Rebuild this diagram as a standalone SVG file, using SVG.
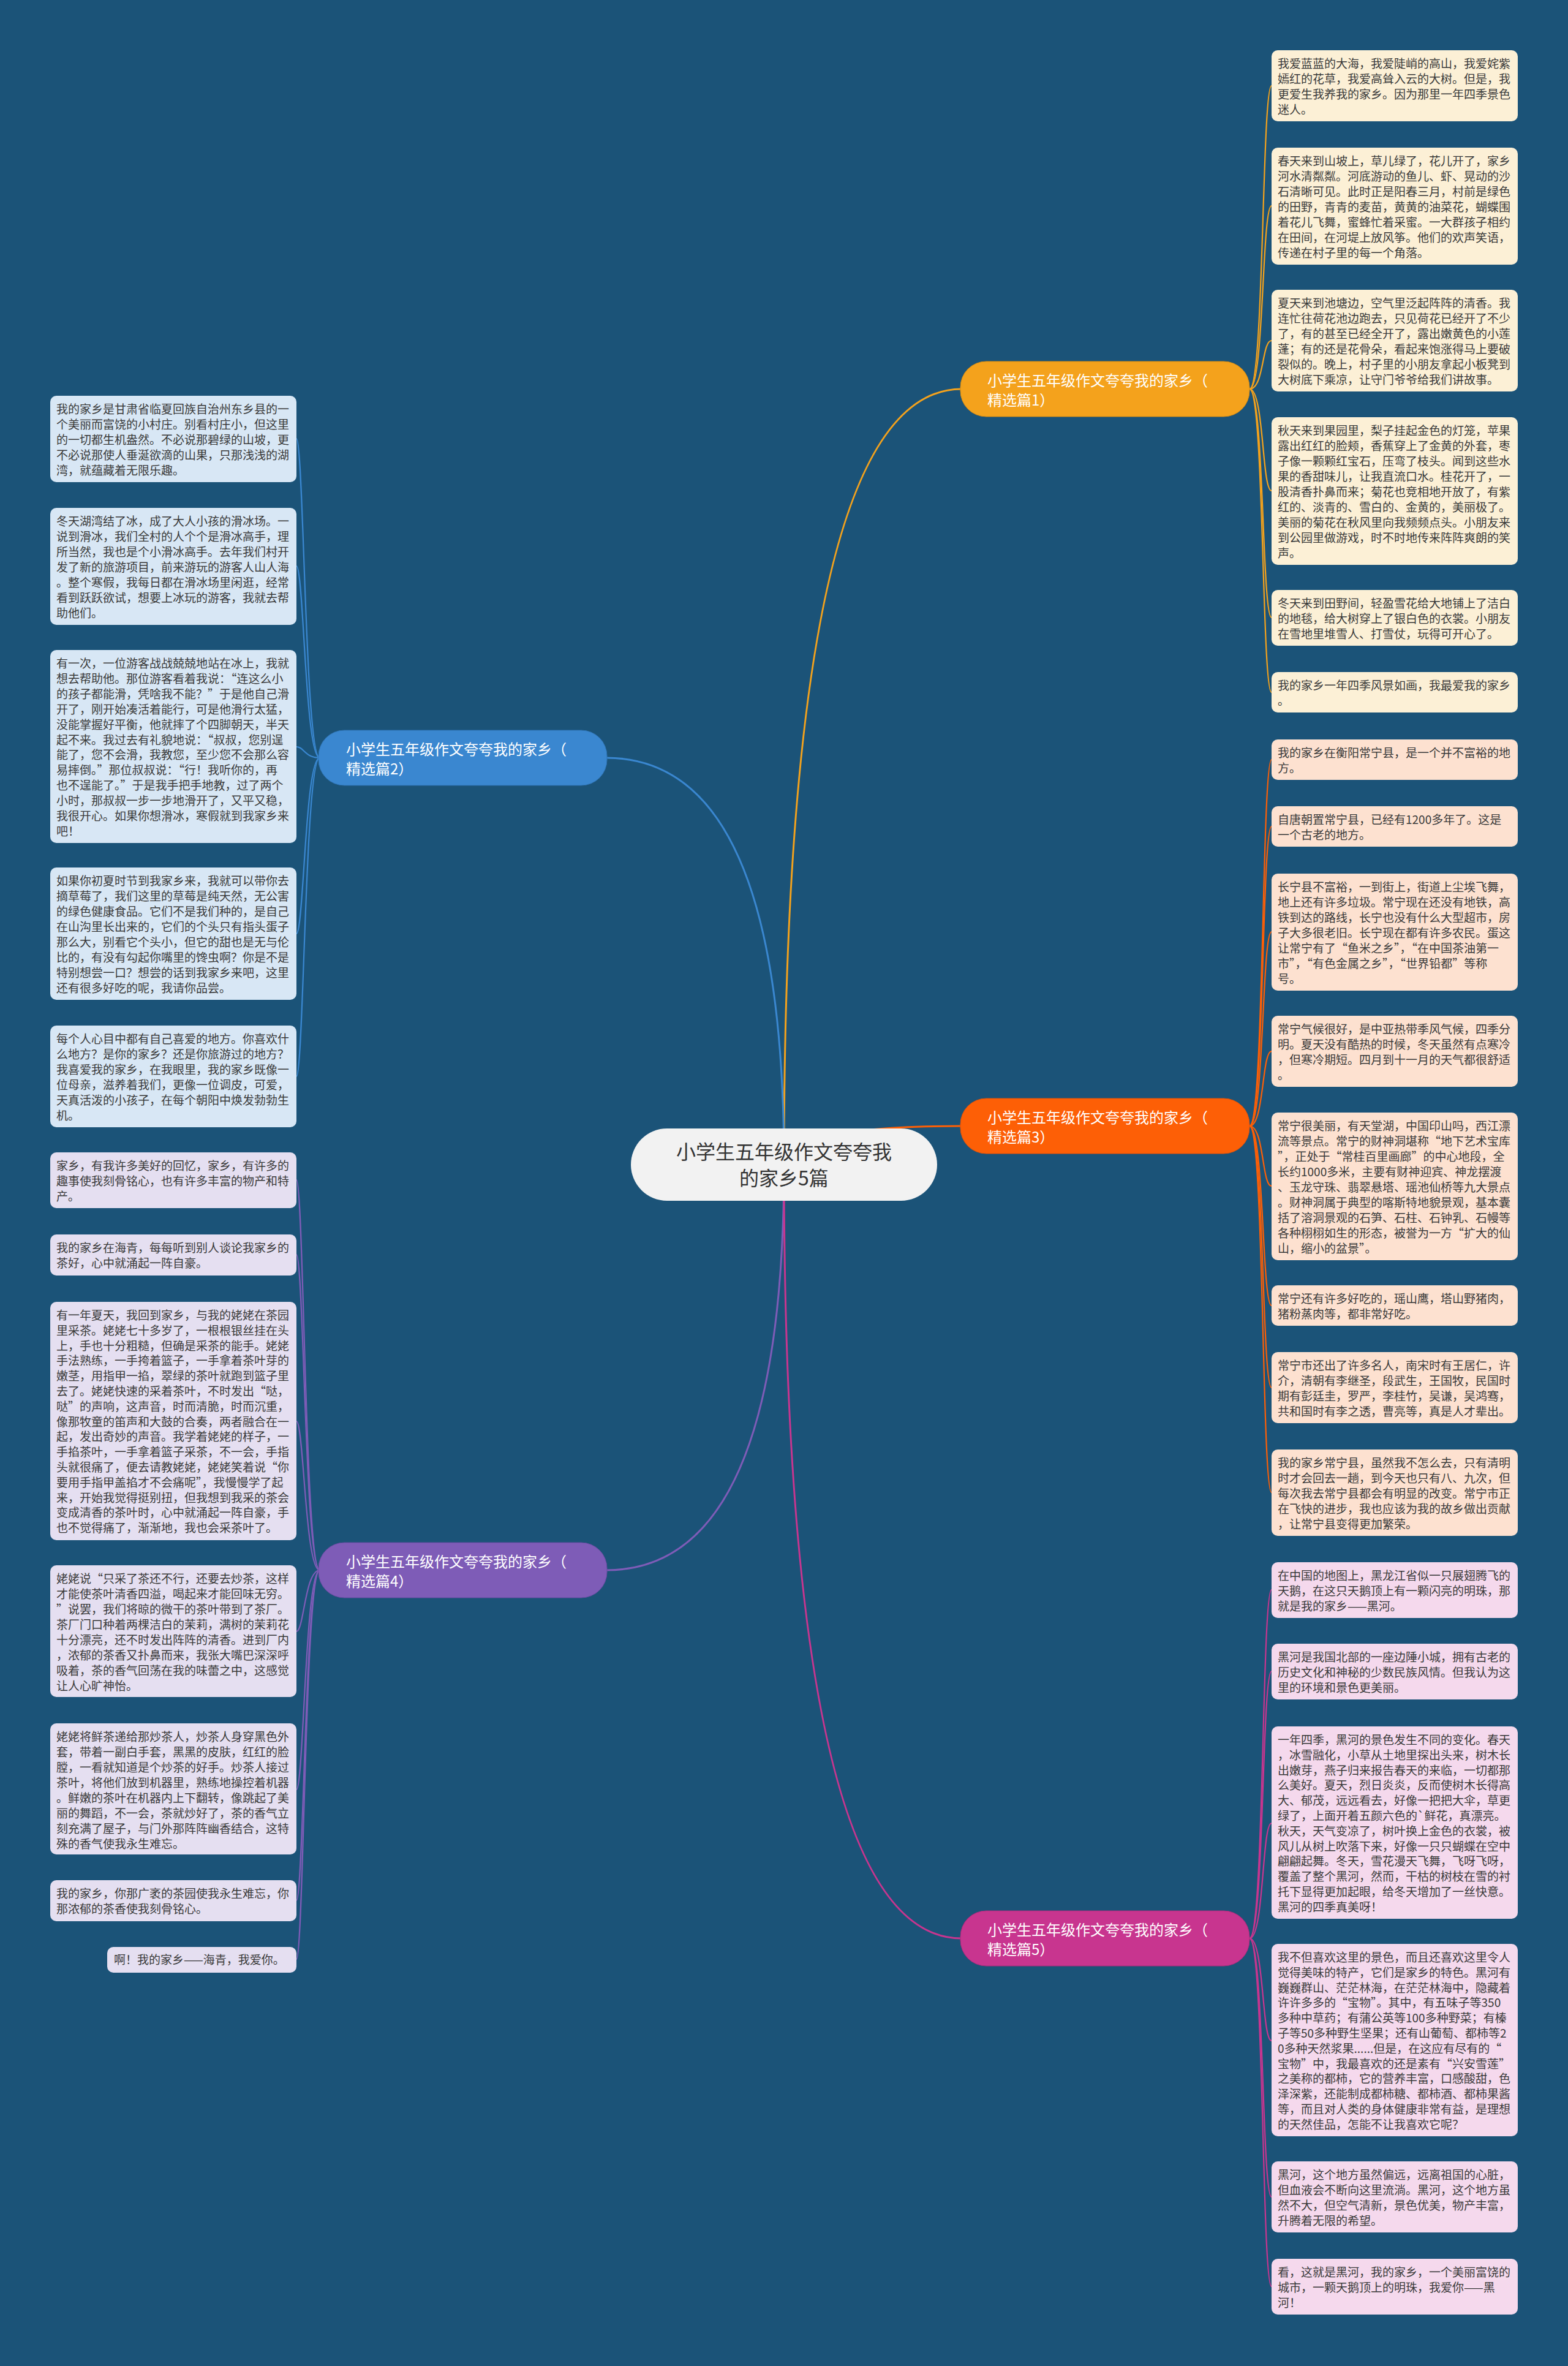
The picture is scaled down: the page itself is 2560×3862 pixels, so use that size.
<svg xmlns="http://www.w3.org/2000/svg" width="2560" height="3862" viewBox="0 0 2560 3862">
<style>
.lt{font-family:"Noto Sans CJK SC","Liberation Sans",sans-serif;font-size:19px;fill:#3a3a3a}
.bt{font-family:"Noto Sans CJK SC","Liberation Sans",sans-serif;font-size:24px;fill:#ffffff}
.mt{font-family:"Noto Sans CJK SC","Liberation Sans",sans-serif;font-size:32px;fill:#333333}
.q{font-feature-settings:"fwid" 1;font-variant-east-asian:full-width}
.c1{fill:#fcf0d6}.c2{fill:#d8e7f5}.c3{fill:#fde1d0}.c4{fill:#e5dff1}.c5{fill:#f5d9ed}
.l1{stroke:#f4a21c}.l2{stroke:#3a87d0}.l3{stroke:#fd5f06}.l4{stroke:#7e5cb7}.l5{stroke:#c8358f}
#connectors path{fill:none}
.main{stroke-width:3}
.leafc{stroke-width:2.2}
</style>
<rect x="0" y="0" width="2560" height="3862" fill="#1b5378"/>
<g id="connectors">
<path class="main l1" d="M1280 1901 Q1280 635 1570 635"/>
<path class="main l2" d="M1280 1901 Q1280 1237 990 1237"/>
<path class="main l3" d="M1280 1901 Q1280 1838 1570 1838"/>
<path class="main l4" d="M1280 1901 Q1280 2563 990 2563"/>
<path class="main l5" d="M1280 1901 Q1280 3164 1570 3164"/>
<path class="leafc l1" d="M2040 635 C2064 635 2060 140 2076 140"/>
<path class="leafc l1" d="M2040 635 C2064 635 2060 336 2076 336"/>
<path class="leafc l1" d="M2040 635 C2064 635 2060 556 2076 556"/>
<path class="leafc l1" d="M2040 635 C2064 635 2060 801 2076 801"/>
<path class="leafc l1" d="M2040 635 C2064 635 2060 1008 2076 1008"/>
<path class="leafc l1" d="M2040 635 C2064 635 2060 1130 2076 1130"/>
<path class="leafc l3" d="M2040 1838 C2064 1838 2060 1240 2076 1240"/>
<path class="leafc l3" d="M2040 1838 C2064 1838 2060 1349 2076 1349"/>
<path class="leafc l3" d="M2040 1838 C2064 1838 2060 1521 2076 1521"/>
<path class="leafc l3" d="M2040 1838 C2064 1838 2060 1716 2076 1716"/>
<path class="leafc l3" d="M2040 1838 C2064 1838 2060 1936 2076 1936"/>
<path class="leafc l3" d="M2040 1838 C2064 1838 2060 2131 2076 2131"/>
<path class="leafc l3" d="M2040 1838 C2064 1838 2060 2265 2076 2265"/>
<path class="leafc l3" d="M2040 1838 C2064 1838 2060 2436 2076 2436"/>
<path class="leafc l5" d="M2040 3164 C2064 3164 2060 2595 2076 2595"/>
<path class="leafc l5" d="M2040 3164 C2064 3164 2060 2728 2076 2728"/>
<path class="leafc l5" d="M2040 3164 C2064 3164 2060 2976 2076 2976"/>
<path class="leafc l5" d="M2040 3164 C2064 3164 2060 3331 2076 3331"/>
<path class="leafc l5" d="M2040 3164 C2064 3164 2060 3586 2076 3586"/>
<path class="leafc l5" d="M2040 3164 C2064 3164 2060 3732 2076 3732"/>
<path class="leafc l2" d="M522 1237 C498 1237 496 716 484 716"/>
<path class="leafc l2" d="M522 1237 C498 1237 496 924 484 924"/>
<path class="leafc l2" d="M522 1237 C498 1237 496 1219 484 1219"/>
<path class="leafc l2" d="M522 1237 C498 1237 496 1524 484 1524"/>
<path class="leafc l2" d="M522 1237 C498 1237 496 1757 484 1757"/>
<path class="leafc l4" d="M522 2563 C498 2563 496 1926 484 1926"/>
<path class="leafc l4" d="M522 2563 C498 2563 496 2048 484 2048"/>
<path class="leafc l4" d="M522 2563 C498 2563 496 2320 484 2320"/>
<path class="leafc l4" d="M522 2563 C498 2563 496 2663 484 2663"/>
<path class="leafc l4" d="M522 2563 C498 2563 496 2921 484 2921"/>
<path class="leafc l4" d="M522 2563 C498 2563 496 3102 484 3102"/>
<path class="leafc l4" d="M522 2563 C498 2563 496 3198 484 3198"/>
</g>
<g id="main">
<rect x="1030" y="1842" width="500" height="118" rx="59" fill="#f2f2f2"/>
<text class="mt" text-anchor="middle"><tspan x="1280" y="1892">小学生五年级作文夸夸我</tspan><tspan x="1280" y="1935">的家乡5篇</tspan></text>
</g>
<g id="branch1">
<rect x="1568" y="590" width="472" height="90" rx="42" fill="#f4a21c" stroke="#d98c10" stroke-width="1"/>
<text class="bt"><tspan x="1612" y="630">小学生五年级作文夸夸我的家乡（</tspan><tspan x="1612" y="662">精选篇1）</tspan></text>
</g>
<g id="branch2">
<rect x="520" y="1192" width="471" height="90" rx="42" fill="#3a87d0" stroke="#2f74b5" stroke-width="1"/>
<text class="bt"><tspan x="565" y="1232">小学生五年级作文夸夸我的家乡（</tspan><tspan x="565" y="1264">精选篇2）</tspan></text>
</g>
<g id="branch3">
<rect x="1568" y="1793" width="472" height="90" rx="42" fill="#fd5f06" stroke="#e0520a" stroke-width="1"/>
<text class="bt"><tspan x="1612" y="1833">小学生五年级作文夸夸我的家乡（</tspan><tspan x="1612" y="1865">精选篇3）</tspan></text>
</g>
<g id="branch4">
<rect x="520" y="2518" width="471" height="90" rx="42" fill="#7e5cb7" stroke="#6b4ca3" stroke-width="1"/>
<text class="bt"><tspan x="565" y="2558">小学生五年级作文夸夸我的家乡（</tspan><tspan x="565" y="2590">精选篇4）</tspan></text>
</g>
<g id="branch5">
<rect x="1568" y="3119" width="472" height="90" rx="42" fill="#c8358f" stroke="#ad2a7b" stroke-width="1"/>
<text class="bt"><tspan x="1612" y="3159">小学生五年级作文夸夸我的家乡（</tspan><tspan x="1612" y="3191">精选篇5）</tspan></text>
</g>

<g id="r1-1"><rect class="c1" x="2076" y="82" width="402" height="116" rx="10"/>
<text class="lt" x="2086" y="111"><tspan x="2086">我爱蓝蓝的大海，我爱陡峭的高山，我爱姹紫</tspan><tspan x="2086" dy="25">嫣红的花草，我爱高耸入云的大树。但是，我</tspan><tspan x="2086" dy="25">更爱生我养我的家乡。因为那里一年四季景色</tspan><tspan x="2086" dy="25">迷人。</tspan></text></g>
<g id="r1-2"><rect class="c1" x="2076" y="241" width="402" height="191" rx="10"/>
<text class="lt" x="2086" y="270"><tspan x="2086">春天来到山坡上，草儿绿了，花儿开了，家乡</tspan><tspan x="2086" dy="25">河水清粼粼。河底游动的鱼儿、虾、晃动的沙</tspan><tspan x="2086" dy="25">石清晰可见。此时正是阳春三月，村前是绿色</tspan><tspan x="2086" dy="25">的田野，青青的麦苗，黄黄的油菜花，蝴蝶围</tspan><tspan x="2086" dy="25">着花儿飞舞，蜜蜂忙着采蜜。一大群孩子相约</tspan><tspan x="2086" dy="25">在田间，在河堤上放风筝。他们的欢声笑语，</tspan><tspan x="2086" dy="25">传递在村子里的每一个角落。</tspan></text></g>
<g id="r1-3"><rect class="c1" x="2076" y="473" width="402" height="166" rx="10"/>
<text class="lt" x="2086" y="502"><tspan x="2086">夏天来到池塘边，空气里泛起阵阵的清香。我</tspan><tspan x="2086" dy="25">连忙往荷花池边跑去，只见荷花已经开了不少</tspan><tspan x="2086" dy="25">了，有的甚至已经全开了，露出嫩黄色的小莲</tspan><tspan x="2086" dy="25">蓬；有的还是花骨朵，看起来饱涨得马上要破</tspan><tspan x="2086" dy="25">裂似的。晚上，村子里的小朋友拿起小板凳到</tspan><tspan x="2086" dy="25">大树底下乘凉，让守门爷爷给我们讲故事。</tspan></text></g>
<g id="r1-4"><rect class="c1" x="2076" y="681" width="402" height="241" rx="10"/>
<text class="lt" x="2086" y="710"><tspan x="2086">秋天来到果园里，梨子挂起金色的灯笼，苹果</tspan><tspan x="2086" dy="25">露出红红的脸颊，香蕉穿上了金黄的外套，枣</tspan><tspan x="2086" dy="25">子像一颗颗红宝石，压弯了枝头。闻到这些水</tspan><tspan x="2086" dy="25">果的香甜味儿，让我直流口水。桂花开了，一</tspan><tspan x="2086" dy="25">股清香扑鼻而来；菊花也竞相地开放了，有紫</tspan><tspan x="2086" dy="25">红的、淡青的、雪白的、金黄的，美丽极了。</tspan><tspan x="2086" dy="25">美丽的菊花在秋风里向我频频点头。小朋友来</tspan><tspan x="2086" dy="25">到公园里做游戏，时不时地传来阵阵爽朗的笑</tspan><tspan x="2086" dy="25">声。</tspan></text></g>
<g id="r1-5"><rect class="c1" x="2076" y="963" width="402" height="91" rx="10"/>
<text class="lt" x="2086" y="992"><tspan x="2086">冬天来到田野间，轻盈雪花给大地铺上了洁白</tspan><tspan x="2086" dy="25">的地毯，给大树穿上了银白色的衣裳。小朋友</tspan><tspan x="2086" dy="25">在雪地里堆雪人、打雪仗，玩得可开心了。</tspan></text></g>
<g id="r1-6"><rect class="c1" x="2076" y="1097" width="402" height="66" rx="10"/>
<text class="lt" x="2086" y="1126"><tspan x="2086">我的家乡一年四季风景如画，我最爱我的家乡</tspan><tspan x="2086" dy="25">。</tspan></text></g>

<g id="r3-1"><rect class="c3" x="2076" y="1207" width="402" height="66" rx="10"/>
<text class="lt" x="2086" y="1236"><tspan x="2086">我的家乡在衡阳常宁县，是一个并不富裕的地</tspan><tspan x="2086" dy="25">方。</tspan></text></g>
<g id="r3-2"><rect class="c3" x="2076" y="1316" width="402" height="66" rx="10"/>
<text class="lt" x="2086" y="1345"><tspan x="2086">自唐朝置常宁县，已经有1200多年了。这是</tspan><tspan x="2086" dy="25">一个古老的地方。</tspan></text></g>
<g id="r3-3"><rect class="c3" x="2076" y="1426" width="402" height="191" rx="10"/>
<text class="lt" x="2086" y="1455"><tspan x="2086">长宁县不富裕，一到街上，街道上尘埃飞舞，</tspan><tspan x="2086" dy="25">地上还有许多垃圾。常宁现在还没有地铁，高</tspan><tspan x="2086" dy="25">铁到达的路线，长宁也没有什么大型超市，房</tspan><tspan x="2086" dy="25">子大多很老旧。长宁现在都有许多农民。蛋这</tspan><tspan x="2086" dy="25">让常宁有了<tspan class="q">“</tspan>鱼米之乡<tspan class="q">”</tspan>，<tspan class="q">“</tspan>在中国茶油第一</tspan><tspan x="2086" dy="25">市<tspan class="q">”</tspan>，<tspan class="q">“</tspan>有色金属之乡<tspan class="q">”</tspan>，<tspan class="q">“</tspan>世界铅都<tspan class="q">”</tspan>等称</tspan><tspan x="2086" dy="25">号。</tspan></text></g>
<g id="r3-4"><rect class="c3" x="2076" y="1658" width="402" height="116" rx="10"/>
<text class="lt" x="2086" y="1687"><tspan x="2086">常宁气候很好，是中亚热带季风气候，四季分</tspan><tspan x="2086" dy="25">明。夏天没有酷热的时候，冬天虽然有点寒冷</tspan><tspan x="2086" dy="25">，但寒冷期短。四月到十一月的天气都很舒适</tspan><tspan x="2086" dy="25">。</tspan></text></g>
<g id="r3-5"><rect class="c3" x="2076" y="1816" width="402" height="241" rx="10"/>
<text class="lt" x="2086" y="1845"><tspan x="2086">常宁很美丽，有天堂湖，中国印山吗，西江漂</tspan><tspan x="2086" dy="25">流等景点。常宁的财神洞堪称<tspan class="q">“</tspan>地下艺术宝库</tspan><tspan x="2086" dy="25"><tspan class="q">”</tspan>，正处于<tspan class="q">“</tspan>常桂百里画廊<tspan class="q">”</tspan>的中心地段，全</tspan><tspan x="2086" dy="25">长约1000多米，主要有财神迎宾、神龙摆渡</tspan><tspan x="2086" dy="25">、玉龙守珠、翡翠悬塔、瑶池仙桥等九大景点</tspan><tspan x="2086" dy="25">。财神洞属于典型的喀斯特地貌景观，基本囊</tspan><tspan x="2086" dy="25">括了溶洞景观的石笋、石柱、石钟乳、石幔等</tspan><tspan x="2086" dy="25">各种栩栩如生的形态，被誉为一方<tspan class="q">“</tspan>扩大的仙</tspan><tspan x="2086" dy="25">山，缩小的盆景<tspan class="q">”</tspan>。</tspan></text></g>
<g id="r3-6"><rect class="c3" x="2076" y="2098" width="402" height="66" rx="10"/>
<text class="lt" x="2086" y="2127"><tspan x="2086">常宁还有许多好吃的，瑶山鹰，塔山野猪肉，</tspan><tspan x="2086" dy="25">猪粉蒸肉等，都非常好吃。</tspan></text></g>
<g id="r3-7"><rect class="c3" x="2076" y="2207" width="402" height="116" rx="10"/>
<text class="lt" x="2086" y="2236"><tspan x="2086">常宁市还出了许多名人，南宋时有王居仁，许</tspan><tspan x="2086" dy="25">介，清朝有李继圣，段武生，王国牧，民国时</tspan><tspan x="2086" dy="25">期有彭廷圭，罗严，李桂竹，吴谦，吴鸿骞，</tspan><tspan x="2086" dy="25">共和国时有李之透，曹亮等，真是人才辈出。</tspan></text></g>
<g id="r3-8"><rect class="c3" x="2076" y="2366" width="402" height="141" rx="10"/>
<text class="lt" x="2086" y="2395"><tspan x="2086">我的家乡常宁县，虽然我不怎么去，只有清明</tspan><tspan x="2086" dy="25">时才会回去一趟，到今天也只有八、九次，但</tspan><tspan x="2086" dy="25">每次我去常宁县都会有明显的改变。常宁市正</tspan><tspan x="2086" dy="25">在飞快的进步，我也应该为我的故乡做出贡献</tspan><tspan x="2086" dy="25">，让常宁县变得更加繁荣。</tspan></text></g>

<g id="r5-1"><rect class="c5" x="2076" y="2550" width="402" height="91" rx="10"/>
<text class="lt" x="2086" y="2579"><tspan x="2086">在中国的地图上，黑龙江省似一只展翅腾飞的</tspan><tspan x="2086" dy="25">天鹅，在这只天鹅顶上有一颗闪亮的明珠，那</tspan><tspan x="2086" dy="25">就是我的家乡——黑河。</tspan></text></g>
<g id="r5-2"><rect class="c5" x="2076" y="2683" width="402" height="91" rx="10"/>
<text class="lt" x="2086" y="2712"><tspan x="2086">黑河是我国北部的一座边陲小城，拥有古老的</tspan><tspan x="2086" dy="25">历史文化和神秘的少数民族风情。但我认为这</tspan><tspan x="2086" dy="25">里的环境和景色更美丽。</tspan></text></g>
<g id="r5-3"><rect class="c5" x="2076" y="2818" width="402" height="314" rx="10"/>
<text class="lt" x="2086" y="2847"><tspan x="2086">一年四季，黑河的景色发生不同的变化。春天</tspan><tspan x="2086" dy="24.8">，冰雪融化，小草从土地里探出头来，树木长</tspan><tspan x="2086" dy="24.8">出嫩芽，燕子归来报告春天的来临，一切都那</tspan><tspan x="2086" dy="24.8">么美好。夏天，烈日炎炎，反而使树木长得高</tspan><tspan x="2086" dy="24.8">大、郁茂，远远看去，好像一把把大伞，草更</tspan><tspan x="2086" dy="24.8">绿了，上面开着五颜六色的`鲜花，真漂亮。</tspan><tspan x="2086" dy="24.8">秋天，天气变凉了，树叶换上金色的衣裳，被</tspan><tspan x="2086" dy="24.8">风儿从树上吹落下来，好像一只只蝴蝶在空中</tspan><tspan x="2086" dy="24.8">翩翩起舞。冬天，雪花漫天飞舞，飞呀飞呀，</tspan><tspan x="2086" dy="24.8">覆盖了整个黑河，然而，干枯的树枝在雪的衬</tspan><tspan x="2086" dy="24.8">托下显得更加起眼，给冬天增加了一丝快意。</tspan><tspan x="2086" dy="24.8">黑河的四季真美呀！</tspan></text></g>
<g id="r5-4"><rect class="c5" x="2076" y="3173" width="402" height="314" rx="10"/>
<text class="lt" x="2086" y="3202"><tspan x="2086">我不但喜欢这里的景色，而且还喜欢这里令人</tspan><tspan x="2086" dy="24.8">觉得美味的特产，它们是家乡的特色。黑河有</tspan><tspan x="2086" dy="24.8">巍巍群山、茫茫林海，在茫茫林海中，隐藏着</tspan><tspan x="2086" dy="24.8">许许多多的<tspan class="q">“</tspan>宝物<tspan class="q">”</tspan>。其中，有五味子等350</tspan><tspan x="2086" dy="24.8">多种中草药；有蒲公英等100多种野菜；有榛</tspan><tspan x="2086" dy="24.8">子等50多种野生坚果；还有山葡萄、都柿等2</tspan><tspan x="2086" dy="24.8">0多种天然浆果......但是，在这应有尽有的<tspan class="q">“</tspan></tspan><tspan x="2086" dy="24.8">宝物<tspan class="q">”</tspan>中，我最喜欢的还是素有<tspan class="q">“</tspan>兴安雪莲<tspan class="q">”</tspan></tspan><tspan x="2086" dy="24.8">之美称的都柿，它的营养丰富，口感酸甜，色</tspan><tspan x="2086" dy="24.8">泽深紫，还能制成都柿糖、都柿酒、都柿果酱</tspan><tspan x="2086" dy="24.8">等，而且对人类的身体健康非常有益，是理想</tspan><tspan x="2086" dy="24.8">的天然佳品，怎能不让我喜欢它呢？</tspan></text></g>
<g id="r5-5"><rect class="c5" x="2076" y="3528" width="402" height="116" rx="10"/>
<text class="lt" x="2086" y="3557"><tspan x="2086">黑河，这个地方虽然偏远，远离祖国的心脏，</tspan><tspan x="2086" dy="25">但血液会不断向这里流淌。黑河，这个地方虽</tspan><tspan x="2086" dy="25">然不大，但空气清新，景色优美，物产丰富，</tspan><tspan x="2086" dy="25">升腾着无限的希望。</tspan></text></g>
<g id="r5-6"><rect class="c5" x="2076" y="3687" width="402" height="91" rx="10"/>
<text class="lt" x="2086" y="3716"><tspan x="2086">看，这就是黑河，我的家乡，一个美丽富饶的</tspan><tspan x="2086" dy="25">城市，一颗天鹅顶上的明珠，我爱你——黑</tspan><tspan x="2086" dy="25">河！</tspan></text></g>

<g id="l2-1"><rect class="c2" x="82" y="646" width="402" height="141" rx="10"/>
<text class="lt" x="92" y="675"><tspan x="92">我的家乡是甘肃省临夏回族自治州东乡县的一</tspan><tspan x="92" dy="25">个美丽而富饶的小村庄。别看村庄小，但这里</tspan><tspan x="92" dy="25">的一切都生机盎然。不必说那碧绿的山坡，更</tspan><tspan x="92" dy="25">不必说那使人垂涎欲滴的山果，只那浅浅的湖</tspan><tspan x="92" dy="25">湾，就蕴藏着无限乐趣。</tspan></text></g>
<g id="l2-2"><rect class="c2" x="82" y="829" width="402" height="191" rx="10"/>
<text class="lt" x="92" y="858"><tspan x="92">冬天湖湾结了冰，成了大人小孩的滑冰场。一</tspan><tspan x="92" dy="25">说到滑冰，我们全村的人个个是滑冰高手，理</tspan><tspan x="92" dy="25">所当然，我也是个小滑冰高手。去年我们村开</tspan><tspan x="92" dy="25">发了新的旅游项目，前来游玩的游客人山人海</tspan><tspan x="92" dy="25">。整个寒假，我每日都在滑冰场里闲逛，经常</tspan><tspan x="92" dy="25">看到跃跃欲试，想要上冰玩的游客，我就去帮</tspan><tspan x="92" dy="25">助他们。</tspan></text></g>
<g id="l2-3"><rect class="c2" x="82" y="1061" width="402" height="315" rx="10"/>
<text class="lt" x="92" y="1090"><tspan x="92">有一次，一位游客战战兢兢地站在冰上，我就</tspan><tspan x="92" dy="24.9">想去帮助他。那位游客看着我说：<tspan class="q">“</tspan>连这么小</tspan><tspan x="92" dy="24.9">的孩子都能滑，凭啥我不能？<tspan class="q">”</tspan>于是他自己滑</tspan><tspan x="92" dy="24.9">开了，刚开始凑活着能行，可是他滑行太猛，</tspan><tspan x="92" dy="24.9">没能掌握好平衡，他就摔了个四脚朝天，半天</tspan><tspan x="92" dy="24.9">起不来。我过去有礼貌地说：<tspan class="q">“</tspan>叔叔，您别逞</tspan><tspan x="92" dy="24.9">能了，您不会滑，我教您，至少您不会那么容</tspan><tspan x="92" dy="24.9">易摔倒。<tspan class="q">”</tspan>那位叔叔说：<tspan class="q">“</tspan>行！我听你的，再</tspan><tspan x="92" dy="24.9">也不逞能了。<tspan class="q">”</tspan>于是我手把手地教，过了两个</tspan><tspan x="92" dy="24.9">小时，那叔叔一步一步地滑开了，又平又稳，</tspan><tspan x="92" dy="24.9">我很开心。如果你想滑冰，寒假就到我家乡来</tspan><tspan x="92" dy="24.9">吧！</tspan></text></g>
<g id="l2-4"><rect class="c2" x="82" y="1416" width="402" height="216" rx="10"/>
<text class="lt" x="92" y="1445"><tspan x="92">如果你初夏时节到我家乡来，我就可以带你去</tspan><tspan x="92" dy="25">摘草莓了，我们这里的草莓是纯天然，无公害</tspan><tspan x="92" dy="25">的绿色健康食品。它们不是我们种的，是自己</tspan><tspan x="92" dy="25">在山沟里长出来的，它们的个头只有指头蛋子</tspan><tspan x="92" dy="25">那么大，别看它个头小，但它的甜也是无与伦</tspan><tspan x="92" dy="25">比的，有没有勾起你嘴里的馋虫啊？你是不是</tspan><tspan x="92" dy="25">特别想尝一口？想尝的话到我家乡来吧，这里</tspan><tspan x="92" dy="25">还有很多好吃的呢，我请你品尝。</tspan></text></g>
<g id="l2-5"><rect class="c2" x="82" y="1674" width="402" height="166" rx="10"/>
<text class="lt" x="92" y="1703"><tspan x="92">每个人心目中都有自己喜爱的地方。你喜欢什</tspan><tspan x="92" dy="25">么地方？是你的家乡？还是你旅游过的地方？</tspan><tspan x="92" dy="25">我喜爱我的家乡，在我眼里，我的家乡既像一</tspan><tspan x="92" dy="25">位母亲，滋养着我们，更像一位调皮，可爱，</tspan><tspan x="92" dy="25">天真活泼的小孩子，在每个朝阳中焕发勃勃生</tspan><tspan x="92" dy="25">机。</tspan></text></g>

<g id="l4-1"><rect class="c4" x="82" y="1881" width="402" height="91" rx="10"/>
<text class="lt" x="92" y="1910"><tspan x="92">家乡，有我许多美好的回忆，家乡，有许多的</tspan><tspan x="92" dy="25">趣事使我刻骨铭心，也有许多丰富的物产和特</tspan><tspan x="92" dy="25">产。</tspan></text></g>
<g id="l4-2"><rect class="c4" x="82" y="2015" width="402" height="67" rx="10"/>
<text class="lt" x="92" y="2044"><tspan x="92">我的家乡在海青，每每听到别人谈论我家乡的</tspan><tspan x="92" dy="25">茶好，心中就涌起一阵自豪。</tspan></text></g>
<g id="l4-3"><rect class="c4" x="82" y="2125" width="402" height="389" rx="10"/>
<text class="lt" x="92" y="2154"><tspan x="92">有一年夏天，我回到家乡，与我的姥姥在茶园</tspan><tspan x="92" dy="24.8">里采茶。姥姥七十多岁了，一根根银丝挂在头</tspan><tspan x="92" dy="24.8">上，手也十分粗糙，但确是采茶的能手。姥姥</tspan><tspan x="92" dy="24.8">手法熟练，一手挎着篮子，一手拿着茶叶芽的</tspan><tspan x="92" dy="24.8">嫩茎，用指甲一掐，翠绿的茶叶就跑到篮子里</tspan><tspan x="92" dy="24.8">去了。姥姥快速的采着茶叶，不时发出<tspan class="q">“</tspan>哒，</tspan><tspan x="92" dy="24.8">哒<tspan class="q">”</tspan>的声响，这声音，时而清脆，时而沉重，</tspan><tspan x="92" dy="24.8">像那牧童的笛声和大鼓的合奏，两者融合在一</tspan><tspan x="92" dy="24.8">起，发出奇妙的声音。我学着姥姥的样子，一</tspan><tspan x="92" dy="24.8">手掐茶叶，一手拿着篮子采茶，不一会，手指</tspan><tspan x="92" dy="24.8">头就很痛了，便去请教姥姥，姥姥笑着说<tspan class="q">“</tspan>你</tspan><tspan x="92" dy="24.8">要用手指甲盖掐才不会痛呢<tspan class="q">”</tspan>，我慢慢学了起</tspan><tspan x="92" dy="24.8">来，开始我觉得挺别扭，但我想到我采的茶会</tspan><tspan x="92" dy="24.8">变成清香的茶叶时，心中就涌起一阵自豪，手</tspan><tspan x="92" dy="24.8">也不觉得痛了，渐渐地，我也会采茶叶了。</tspan></text></g>
<g id="l4-4"><rect class="c4" x="82" y="2555" width="402" height="215" rx="10"/>
<text class="lt" x="92" y="2584"><tspan x="92">姥姥说<tspan class="q">“</tspan>只采了茶还不行，还要去炒茶，这样</tspan><tspan x="92" dy="25">才能使茶叶清香四溢，喝起来才能回味无穷。</tspan><tspan x="92" dy="25"><tspan class="q">”</tspan>说罢，我们将晾的微干的茶叶带到了茶厂。</tspan><tspan x="92" dy="25">茶厂门口种着两棵洁白的茉莉，满树的茉莉花</tspan><tspan x="92" dy="25">十分漂亮，还不时发出阵阵的清香。进到厂内</tspan><tspan x="92" dy="25">，浓郁的茶香又扑鼻而来，我张大嘴巴深深呼</tspan><tspan x="92" dy="25">吸着，茶的香气回荡在我的味蕾之中，这感觉</tspan><tspan x="92" dy="25">让人心旷神怡。</tspan></text></g>
<g id="l4-5"><rect class="c4" x="82" y="2813" width="402" height="214" rx="10"/>
<text class="lt" x="92" y="2842"><tspan x="92">姥姥将鲜茶递给那炒茶人，炒茶人身穿黑色外</tspan><tspan x="92" dy="25">套，带着一副白手套，黑黑的皮肤，红红的脸</tspan><tspan x="92" dy="25">膛，一看就知道是个炒茶的好手。炒茶人接过</tspan><tspan x="92" dy="25">茶叶，将他们放到机器里，熟练地操控着机器</tspan><tspan x="92" dy="25">。鲜嫩的茶叶在机器内上下翻转，像跳起了美</tspan><tspan x="92" dy="25">丽的舞蹈，不一会，茶就炒好了，茶的香气立</tspan><tspan x="92" dy="25">刻充满了屋子，与门外那阵阵幽香结合，这特</tspan><tspan x="92" dy="25">殊的香气使我永生难忘。</tspan></text></g>
<g id="l4-6"><rect class="c4" x="82" y="3069" width="402" height="67" rx="10"/>
<text class="lt" x="92" y="3098"><tspan x="92">我的家乡，你那广袤的茶园使我永生难忘，你</tspan><tspan x="92" dy="25">那浓郁的茶香使我刻骨铭心。</tspan></text></g>
<g id="l4-7"><rect class="c4" x="175" y="3178" width="309" height="42" rx="10"/>
<text class="lt" x="186" y="3206">啊！我的家乡——海青，我爱你。</text></g>
</svg>
